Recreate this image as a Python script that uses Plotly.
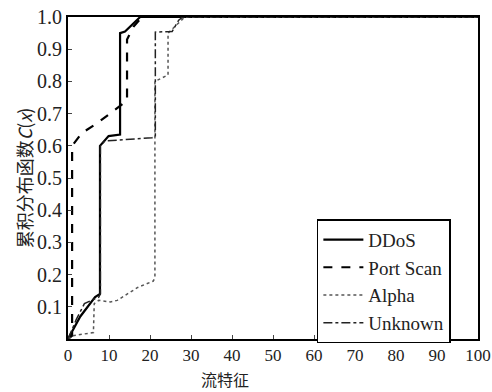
import plotly.graph_objects as go

# Data (CDF of flow features)
ddos_x = [0, 3.0, 6.6, 7.8, 7.8, 9.9, 12.7, 12.7, 13.9, 16.9, 17.6, 100]
ddos_y = [0, 0.07, 0.13, 0.14, 0.60, 0.63, 0.635, 0.95, 0.955, 0.99, 1.0, 1.0]

port_x = [0, 1.0, 1.0, 3.4, 7.1, 10.3, 13.4, 14.4, 14.4, 16.0, 18.0, 100]
port_y = [0, 0.01, 0.60, 0.64, 0.67, 0.70, 0.73, 0.74, 0.93, 0.97, 1.0, 1.0]

alpha_x = [0, 1.0, 6.2, 6.4, 7.5, 10.3, 12.0, 17.0, 20.8, 21.2, 21.2, 22.8, 24.4, 24.4, 26.0, 28.5, 100]
alpha_y = [0, 0.01, 0.02, 0.11, 0.12, 0.115, 0.12, 0.16, 0.18, 0.19, 0.80, 0.81, 0.82, 0.95, 0.97, 1.0, 1.0]

unk_x = [0, 2.0, 4.0, 7.5, 7.9, 7.9, 9.0, 14.0, 20.5, 21.3, 21.3, 25.4, 27.0, 28.0, 100]
unk_y = [0, 0.06, 0.11, 0.13, 0.14, 0.60, 0.615, 0.62, 0.625, 0.63, 0.953, 0.955, 0.99, 1.0, 1.0]

x_ticks = [0, 10, 20, 30, 40, 50, 60, 70, 80, 90, 100]
y_ticks = [0.1, 0.2, 0.3, 0.4, 0.5, 0.6, 0.7, 0.8, 0.9, 1.0]
y_tick_text = ["0.1", "0.2", "0.3", "0.4", "0.5", "0.6", "0.7", "0.8", "0.9", "1.0"]
x_title = "流特征"
y_title = "累积分布函数<i>C</i>(<i>x</i>)"

SERIF = "'Liberation Serif', 'Times New Roman', 'DejaVu Serif', serif"
CJK = "'Noto Sans CJK SC'"

fig = go.Figure()
fig.add_trace(go.Scatter(x=ddos_x, y=ddos_y, mode="lines", name="DDoS",
                         line=dict(color="black", width=2.2, dash="solid")))
fig.add_trace(go.Scatter(x=port_x, y=port_y, mode="lines", name="Port Scan",
                         line=dict(color="black", width=2.2, dash="dash")))
fig.add_trace(go.Scatter(x=alpha_x, y=alpha_y, mode="lines", name="Alpha",
                         line=dict(color="#555555", width=1.5, dash="dot")))
fig.add_trace(go.Scatter(x=unk_x, y=unk_y, mode="lines", name="Unknown",
                         line=dict(color="#222222", width=1.5, dash="dashdot")))

fig.update_layout(
    width=492, height=392,
    margin=dict(l=68, r=14, t=17, b=53, autoexpand=False),
    paper_bgcolor="white", plot_bgcolor="white",
    font=dict(family=SERIF, color="#222"),
    showlegend=True,
    legend=dict(x=0.607, y=0.372, xanchor="left", yanchor="top",
                bgcolor="white", bordercolor="black", borderwidth=1.5,
                font=dict(family=SERIF, size=19, color="#222"),
                tracegroupgap=0, itemwidth=40),
    xaxis=dict(range=[0, 100], tickvals=x_ticks, ticks="inside", ticklen=4,
               showline=True, linecolor="black", linewidth=2, mirror=True,
               showgrid=False, zeroline=False,
               tickfont=dict(family=SERIF, size=17, color="#222"), automargin=False),
    yaxis=dict(range=[0, 1], tickvals=y_ticks, ticktext=y_tick_text, ticks="inside", ticklen=4,
               showline=True, linecolor="black", linewidth=2, mirror=True,
               showgrid=False, zeroline=False,
               tickfont=dict(family=SERIF, size=20, color="#222"), automargin=False,
               title=dict(text=y_title,
                          font=dict(family=CJK, size=18, color="#222"),
                          standoff=0)),
    annotations=[dict(text=x_title, xref="paper", yref="paper", x=0.383, y=-0.125,
                      xanchor="center", yanchor="middle", showarrow=False,
                      font=dict(family=CJK, size=16, color="#222"))],
)

fig.write_html("out.html")
